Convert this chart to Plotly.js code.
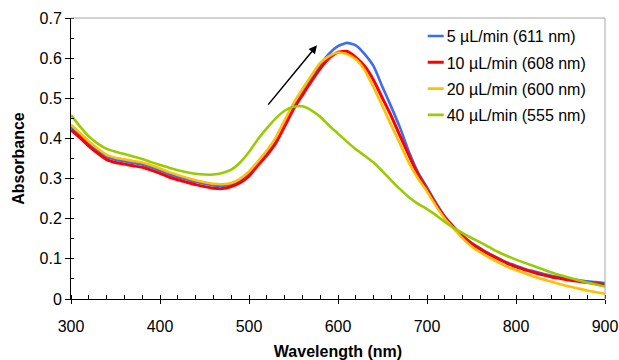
<!DOCTYPE html>
<html>
<head>
<meta charset="utf-8">
<script src="https://cdn.plot.ly/plotly-3.0.1.min.js"></script>
<style>
  html, body { margin: 0; padding: 0; background: #ffffff; }
  #chart { width: 619px; height: 360px; }
</style>
</head>
<body>
<div id="chart"></div>
<script>
// ---- Data ----
const wavelength = [300,310,320,330,340,350,360,370,380,390,400,410,420,430,440,450,460,470,480,490,
  500,510,520,530,540,550,560,570,580,590,600,610,620,630,640,650,660,670,680,690,
  700,710,720,730,740,750,760,770,780,790,800,810,820,830,840,850,860,870,880,890,900];

const abs5 = [0.428,0.409,0.388,0.370,0.354,0.347,0.343,0.339,0.335,0.328,0.320,0.311,0.304,0.298,0.292,0.287,0.283,0.282,0.284,0.293,
  0.310,0.337,0.362,0.392,0.433,0.476,0.513,0.549,0.583,0.611,0.630,0.638,0.632,0.610,0.580,0.528,0.478,0.425,0.365,0.315,
  0.278,0.240,0.206,0.180,0.158,0.140,0.126,0.113,0.102,0.091,0.083,0.075,0.069,0.063,0.058,0.054,0.050,0.047,0.044,0.042,0.040];

const abs10 = [0.421,0.402,0.381,0.363,0.347,0.340,0.336,0.332,0.328,0.321,0.313,0.304,0.297,0.291,0.285,0.280,0.276,0.275,0.280,0.290,
  0.306,0.333,0.358,0.388,0.430,0.473,0.508,0.542,0.574,0.600,0.615,0.617,0.602,0.580,0.545,0.500,0.455,0.405,0.356,0.310,
  0.273,0.236,0.203,0.178,0.156,0.138,0.124,0.111,0.100,0.089,0.080,0.073,0.066,0.060,0.055,0.051,0.047,0.044,0.041,0.038,0.036];

const abs20 = [0.434,0.414,0.393,0.375,0.359,0.352,0.348,0.344,0.340,0.333,0.325,0.316,0.309,0.302,0.296,0.291,0.287,0.286,0.289,0.300,
  0.318,0.343,0.370,0.402,0.445,0.488,0.523,0.557,0.588,0.605,0.614,0.610,0.597,0.570,0.527,0.480,0.432,0.385,0.338,0.300,
  0.268,0.232,0.200,0.175,0.151,0.131,0.116,0.103,0.091,0.080,0.072,0.064,0.056,0.049,0.043,0.037,0.031,0.026,0.021,0.017,0.013];

const abs40 = [0.458,0.430,0.405,0.387,0.374,0.367,0.361,0.355,0.349,0.341,0.334,0.327,0.321,0.316,0.312,0.310,0.310,0.314,0.322,0.340,
  0.366,0.398,0.425,0.450,0.469,0.479,0.480,0.470,0.454,0.432,0.412,0.392,0.373,0.357,0.340,0.318,0.295,0.273,0.253,0.237,
  0.224,0.209,0.192,0.177,0.164,0.152,0.141,0.129,0.117,0.107,0.098,0.090,0.082,0.074,0.066,0.059,0.053,0.047,0.041,0.036,0.031];

const seriesNames = ["5 \u00b5L/min (611 nm)", "10 \u00b5L/min (608 nm)", "20 \u00b5L/min (600 nm)", "40 \u00b5L/min (555 nm)"];
const seriesColors = ["#3b6cf2", "#ff0000", "#ffc000", "#99cc00"];
const xTickVals = [300,400,500,600,700,800,900];
const yTickVals = [0,0.1,0.2,0.3,0.4,0.5,0.6,0.7];

const FONT = "Liberation Sans, Arial, sans-serif";
const seriesY = [abs5, abs10, abs20, abs40];

const traces = seriesY.map((ys, i) => ({
  type: "scatter",
  mode: "lines",
  x: wavelength,
  y: ys,
  name: seriesNames[i],
  legendgroup: "g" + i,
  line: { color: seriesColors[i], width: i === 1 ? 3 : 2.6, shape: "spline", smoothing: 0.5 },
  hoverinfo: "skip"
}));
// empty helper trace for the overlay axis that draws the crossing major ticks
traces.push({ type: "scatter", mode: "lines", x: [], y: [], xaxis: "x2", yaxis: "y", showlegend: false, hoverinfo: "skip" });

const layout = {
  width: 619,
  height: 360,
  margin: { l: 71, r: 14, t: 18, b: 61 },
  paper_bgcolor: "#ffffff",
  plot_bgcolor: "#ffffff",
  font: { family: FONT, size: 16, color: "#000000" },
  showlegend: true,
  legend: {
    x: 0.6287, xanchor: "left",
    y: 0.996, yanchor: "top",
    bgcolor: "rgba(0,0,0,0)",
    font: { family: FONT, size: 16, color: "#000000" },
    traceorder: "grouped",
    tracegroupgap: 2.5
  },
  xaxis: {
    range: [300, 900],
    tickvals: xTickVals,
    ticks: "outside", ticklen: 4, tickwidth: 1, tickcolor: "#000000",
    ticklabelstandoff: 9,
    showline: true, linecolor: "#000000", linewidth: 1,
    showgrid: false, zeroline: false,
    minor: { dtick: 20, ticks: "inside", ticklen: 4, tickwidth: 1, tickcolor: "#000000", showgrid: false },
    tickfont: { family: FONT, size: 16 },
    title: { text: "<b>Wavelength (nm)</b>", font: { family: FONT, size: 16 }, standoff: 12 }
  },
  xaxis2: {
    overlaying: "x", anchor: "y", side: "bottom",
    range: [300, 900],
    tickvals: xTickVals,
    ticks: "inside", ticklen: 4, tickwidth: 1, tickcolor: "#000000",
    showticklabels: false, showline: false, showgrid: false, zeroline: false
  },
  yaxis: {
    range: [0, 0.7],
    tickvals: yTickVals,
    ticks: "outside", ticklen: 5, tickwidth: 1, tickcolor: "#000000",
    showline: true, linecolor: "#000000", linewidth: 1,
    showgrid: false, zeroline: false,
    minor: { dtick: 0.05, ticks: "inside", ticklen: 3, tickwidth: 1, tickcolor: "#000000", showgrid: false },
    tickfont: { family: FONT, size: 16 },
    title: { text: "<b>Absorbance</b>", font: { family: FONT, size: 16 }, standoff: 10 }
  },
  shapes: [
    { type: "line", xref: "paper", yref: "paper", x0: 0, x1: 1, y0: 1, y1: 1, line: { color: "#a6a6a6", width: 1 } },
    { type: "line", xref: "paper", yref: "paper", x0: 1, x1: 1, y0: 0, y1: 1, line: { color: "#a6a6a6", width: 1 } }
  ],
  annotations: [
    { x: 576.4, y: 0.632, xref: "x", yref: "y", ax: 520.2, ay: 0.4805, axref: "x", ayref: "y",
      text: "", showarrow: true, arrowhead: 2, arrowsize: 1.1, arrowwidth: 1.5, arrowcolor: "#000000" }
  ]
};

Plotly.newPlot("chart", traces, layout, { staticPlot: true, displayModeBar: false }).then(() => {
  // shorter legend line samples, as in the reference
  document.querySelectorAll("#chart .legend .legendlines path").forEach(p => p.setAttribute("d", "M21,0h16"));
});
</script>
</body>
</html>
